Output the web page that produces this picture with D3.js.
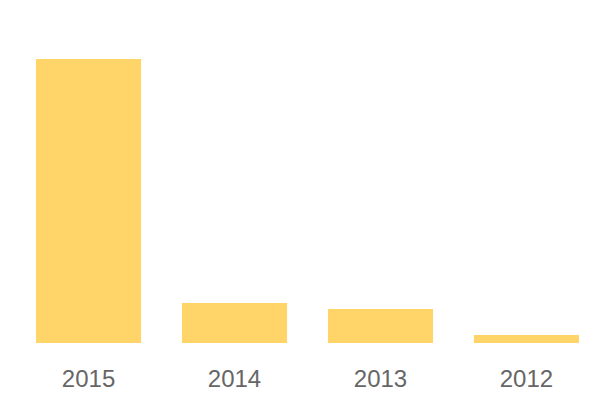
<!DOCTYPE html>
<html>
<head>
<meta charset="utf-8">
<script src="https://cdn.jsdelivr.net/npm/d3@7"></script>
<style>
  body { margin: 0; background: #fff; }
</style>
</head>
<body>
<script>
const years = ["2015", "2014", "2013", "2012"];
const values = [142, 20, 17, 4];

const width = 600, height = 400;

const svg = d3.select("body").append("svg")
    .attr("width", width)
    .attr("height", height)
    .attr("font-family", "'Liberation Sans', Arial, sans-serif");

const x = d3.scaleBand()
    .domain(years)
    .range([36, 579])
    .paddingInner(0.28)
    .paddingOuter(0);

const y = d3.scaleLinear()
    .domain([0, d3.max(values)])
    .range([343, 59]);

svg.append("g")
    .selectAll("rect")
    .data(years)
    .enter().append("rect")
    .attr("x", d => x(d))
    .attr("width", x.bandwidth())
    .attr("y", (d, i) => y(values[i]))
    .attr("height", (d, i) => y(0) - y(values[i]))
    .attr("fill", "#ffd56a");

const axis = svg.append("g")
    .attr("transform", `translate(0,${y(0)})`)
    .call(d3.axisBottom(x).tickSize(0).tickPadding(27));

axis.select(".domain").remove();
axis.selectAll("text")
    .attr("font-size", 24)
    .attr("font-family", "'Liberation Sans', Arial, sans-serif")
    .attr("fill", "#666");
</script>
</body>
</html>
